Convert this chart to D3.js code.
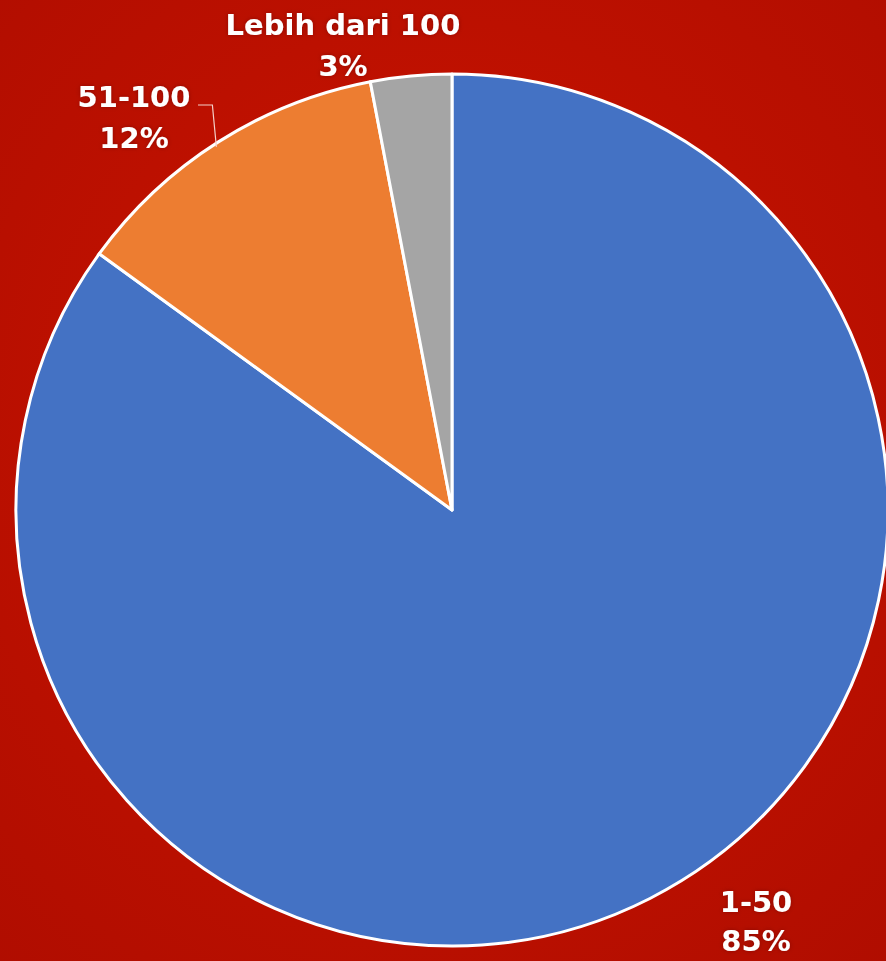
<!DOCTYPE html>
<html>
<head>
<meta charset="utf-8">
<script src="https://cdn.jsdelivr.net/npm/d3@7"></script>
<style>
  html, body { margin: 0; padding: 0; background: #bf1000; overflow: hidden; }
  svg { display: block; }
</style>
</head>
<body>
<script>
'use strict';

// chart data
const categories = ["1-50", "51-100", "Lebih dari 100"];
const shares = [85, 12, 3];
const colors = ["#4472c4", "#ed7d31", "#a5a5a5"];

(function() {
  const width = 886, height = 961;
  const cx = 452, cy = 510, radius = 436;

  // label placement (center x, first baseline y, line gap)
  const labelPos = [
    {x: 756, y: 912, gap: 39},
    {x: 134, y: 107, gap: 41},
    {x: 343, y: 35, gap: 41}
  ];

  const svg = d3.select('body').append('svg')
    .attr('width', width)
    .attr('height', height);

  // red background with a soft gradient
  const defs = svg.append('defs');
  const grad = defs.append('radialGradient')
    .attr('id', 'bg')
    .attr('cx', '50%').attr('cy', '45%').attr('r', '75%');
  grad.append('stop').attr('offset', '0%').attr('stop-color', '#cc1400');
  grad.append('stop').attr('offset', '100%').attr('stop-color', '#b00d00');

  const shadow = defs.append('filter').attr('id', 'glow')
    .attr('x', '-20%').attr('y', '-20%').attr('width', '140%').attr('height', '140%');
  shadow.append('feGaussianBlur').attr('in', 'SourceAlpha').attr('stdDeviation', 2).attr('result', 'b');
  shadow.append('feFlood').attr('flood-color', '#600000').attr('flood-opacity', 0.5);
  shadow.append('feComposite').attr('in2', 'b').attr('operator', 'in').attr('result', 's');
  const merge = shadow.append('feMerge');
  merge.append('feMergeNode').attr('in', 's');
  merge.append('feMergeNode').attr('in', 'SourceGraphic');

  svg.append('rect')
    .attr('width', width)
    .attr('height', height)
    .attr('fill', 'url(#bg)');

  const data = categories.map((c, i) => ({name: c, value: shares[i], color: colors[i]}));

  const pie = d3.pie()
    .sort(null)
    .value(d => d.value)
    .startAngle(0)
    .endAngle(2 * Math.PI);

  const arc = d3.arc()
    .innerRadius(0)
    .outerRadius(radius);

  const g = svg.append('g')
    .attr('transform', 'translate(' + cx + ',' + cy + ')');

  const arcs = pie(data);

  g.selectAll('path.slice')
    .data(arcs)
    .enter()
    .append('path')
      .attr('class', 'slice')
      .attr('d', arc)
      .attr('fill', d => d.data.color)
      .attr('stroke', '#ffffff')
      .attr('stroke-width', 3)
      .attr('stroke-linejoin', 'round');

  // leader line for the 51-100 label
  const orange = arcs[1];
  const midA = (orange.startAngle + orange.endAngle) / 2;
  const ex = cx + Math.sin(midA) * radius - 2;
  const ey = cy - Math.cos(midA) * radius + 5;
  svg.append('path')
    .attr('d', d3.line()([
      [labelPos[1].x + 64, labelPos[1].y - 2],
      [ex - 4, labelPos[1].y - 2],
      [ex, ey]
    ]))
    .attr('fill', 'none')
    .attr('stroke', '#f3d0c8')
    .attr('stroke-width', 1.2);

  // labels
  const labels = svg.selectAll('g.label')
    .data(data)
    .enter()
    .append('g')
      .attr('class', 'label')
      .attr('filter', 'url(#glow)');

  labels.append('text')
    .attr('x', (d, i) => labelPos[i].x)
    .attr('y', (d, i) => labelPos[i].y)
    .attr('text-anchor', 'middle')
    .style('font-family', '"DejaVu Sans", sans-serif')
    .style('font-weight', 'bold')
    .style('font-size', '29px')
    .attr('fill', '#ffffff')
    .text(d => d.name);

  labels.append('text')
    .attr('x', (d, i) => labelPos[i].x)
    .attr('y', (d, i) => labelPos[i].y + labelPos[i].gap)
    .attr('text-anchor', 'middle')
    .style('font-family', '"DejaVu Sans", sans-serif')
    .style('font-weight', 'bold')
    .style('font-size', '29px')
    .attr('fill', '#ffffff')
    .text(d => d.value + '%');
})();
</script>
</body>
</html>
